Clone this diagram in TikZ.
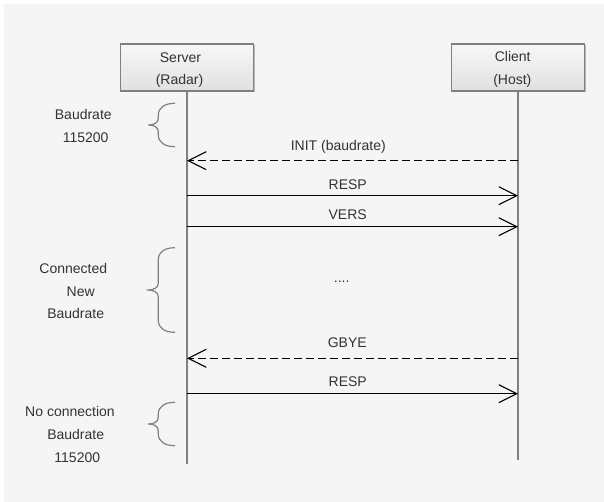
\documentclass[tikz,border=0pt]{standalone}
\usepackage{fontspec}
\setmainfont{Liberation Sans}
\usetikzlibrary{arrows.meta,shadows}
\definecolor{bgc}{HTML}{F5F5F5}
\definecolor{linec}{HTML}{808080}
\definecolor{txtc}{HTML}{333333}
\newcommand{\mybrace}[4]{% top, middle, bottom, tip x
  \draw[bracec] (175,#1) .. controls (165,#1) and (158.3,#1+4) .. (158.3,#1+12)
    -- (158.3,#2-7) .. controls (158.3,#2-2) and (154,#2) .. (#4,#2)
    .. controls (154,#2) and (158.3,#2+2) .. (158.3,#2+7)
    -- (158.3,#3-12) .. controls (158.3,#3-4) and (165,#3) .. (175,#3);}
\begin{document}
\begin{tikzpicture}[x=1pt,y=-1pt,
  every node/.style={font=\fontsize{14}{16}\selectfont, text=txtc, inner sep=0pt},
  actor/.style={draw=linec, line width=1.3pt, top color=white!97!black, bottom color=white!88!black,
    minimum width=132.6pt, minimum height=47pt, drop shadow={shadow xshift=1.5pt, shadow yshift=-1.5pt, opacity=0.25, fill=black}},
  life/.style={draw=linec, line width=1.5pt},
  msg/.style={draw=black, line width=1.1pt, -{Straight Barb[length=18pt,width=18pt,line width=1.1pt]}},
  dmsg/.style={msg, dash pattern=on 8pt off 4pt},
  bracec/.style={draw=linec, line width=1.2pt},
  lbl/.style={anchor=base}]
\useasboundingbox (0,0) rectangle (604,502);
\fill[white] (0,0) rectangle (604,502);
\fill[bgc] (4,4) rectangle (604,502);

% actors
\node[actor] (srv) at (187,67.5) {};
\node[actor] (cli) at (518,67.5) {};
\node[lbl] (srvA) at (180.5,62.3) {Server};
\node[lbl] (srvB) at (179.5,84.3) {(Radar)};
\node[lbl] (cliA) at (512.7,61.7) {Client};
\node[lbl] (cliB) at (512.3,85) {(Host)};

% lifelines
\coordinate (srvEnd) at (187,464);
\coordinate (cliEnd) at (518,460);
\draw[life] (srv.south) -- (srvEnd);
\draw[life] (cli.south) -- (cliEnd);

% message points
\coordinate (s1) at (187,160.7);   \coordinate (c1) at (518,160.7);
\coordinate (s2) at (187,195.7);   \coordinate (c2) at (518,195.7);
\coordinate (s3) at (187,226.7);   \coordinate (c3) at (518,226.7);
\coordinate (s4) at (187,358.3);   \coordinate (c4) at (518,358.3);
\coordinate (s5) at (187,393.7);   \coordinate (c5) at (518,393.7);

\draw[dmsg] (c1) -- (s1);
\draw[msg] (s2) -- (c2);
\draw[msg] (s3) -- (c3);
\draw[dmsg] (c4) -- (s4);
\draw[msg] (s5) -- (c5);

\node[lbl] (m1) at (338.3,151) {INIT (baudrate)};
\node[lbl] (m2) at (347.7,189.3) {RESP};
\node[lbl] (m3) at (347.7,219.3) {VERS};
\node[lbl] (m0) at (341.7,282.5) {....};
\node[lbl] (m4) at (347.3,347.7) {GBYE};
\node[lbl] (m5) at (347.7,386) {RESP};

% braces
\mybrace{103.3}{125}{146.7}{148.3}
\mybrace{247.7}{290}{332.3}{146.7}
\mybrace{402.3}{424}{445.7}{148.3}

% left labels
\node[lbl] (b1a) at (83.3,119.3) {Baudrate};
\node[lbl] (b1b) at (85.7,142.3) {115200};
\node[lbl] (b2a) at (73.3,273.3) {Connected};
\node[lbl] (b2b) at (80.7,296) {New};
\node[lbl] (b2c) at (75.7,318.3) {Baudrate};
\node[lbl] (b3a) at (70,416) {No connection};
\node[lbl] (b3b) at (75.7,439.3) {Baudrate};
\node[lbl] (b3c) at (77.3,462.3) {115200};
\end{tikzpicture}
\end{document}
